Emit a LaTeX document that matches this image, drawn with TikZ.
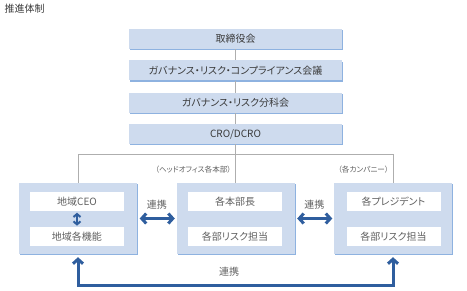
\documentclass[tikz,border=0pt]{standalone}
\usepackage{fontspec}
\setmainfont{Noto Sans CJK JP}[RawFeature=+palt]
\usepackage{xcolor}
\usetikzlibrary{arrows.meta,positioning,shadows}

\definecolor{boxblue}{HTML}{CEDBEE}
\definecolor{edgeblue}{HTML}{8EB2E0}
\definecolor{linkblue}{HTML}{2F5E9E}
\definecolor{textgray}{HTML}{3A3A3A}
\definecolor{subgray}{HTML}{606060}
\definecolor{wiregray}{HTML}{AEAEAE}

\begin{document}
\begin{tikzpicture}[
    x=1pt, y=-1pt,
    board/.style={
        rectangle,
        fill=boxblue,
        minimum width=213pt,
        minimum height=20pt,
        inner sep=0pt,
        font=\fontsize{10}{11}\selectfont,
        text=textgray,
        drop shadow={shadow xshift=1.2pt, shadow yshift=-1.2pt, fill=edgeblue, opacity=1}
    },
    group/.style={
        rectangle,
        fill=boxblue,
        minimum width=118pt,
        minimum height=71pt,
        drop shadow={shadow xshift=1.2pt, shadow yshift=-1.2pt, fill=edgeblue, opacity=1}
    },
    role/.style={
        rectangle,
        fill=white,
        minimum width=94pt,
        minimum height=19pt,
        inner sep=0pt,
        font=\fontsize{10}{11}\selectfont,
        text=subgray
    },
    note/.style={inner sep=0pt, font=\fontsize{7.6}{9}\selectfont, text=subgray},
    tag/.style={inner sep=0pt, font=\fontsize{10}{11}\selectfont, text=subgray},
    wire/.style={draw=wiregray, line width=0.8pt},
    link/.style={
        draw=linkblue,
        line width=3pt,
        {Straight Barb[length=4.5pt,width=10pt]}-{Straight Barb[length=4.5pt,width=10pt]}
    }
]
\useasboundingbox (0,0) rectangle (467,290);

\node[anchor=north west, inner sep=0pt, font=\fontsize{10}{11}\selectfont, text=textgray] (title) at (4.5,4) {推進体制};

% committee chain
\node[board] (board) at (235.5,39) {取締役会};
\node[board, below=11pt of board] (compliance) {ガバナンス・リスク・コンプライアンス会議};
\node[board, below=12pt of compliance] (riskcom) {ガバナンス・リスク分科会};
\node[board, below=11pt of riskcom] (cro) {CRO/DCRO};

% organisations
\node[group] (region) at (78,218.5) {};
\node[group] (hq) at (235.5,218.5) {};
\node[group] (company) at (393,218.5) {};

\node[role] (regionceo) at (77,201.5) {地域CEO};
\node[role, below=16pt of regionceo] (regionfunc) {地域各機能};
\node[role] (hqhead) at (235,201.5) {各本部長};
\node[role, below=16pt of hqhead] (hqrisk) {各部リスク担当};
\node[role] (president) at (393.5,201.5) {各プレジデント};
\node[role, below=16pt of president] (companyrisk) {各部リスク担当};

\node[note, above left=9pt and 4pt of hq.north] (hqnote) {（ヘッドオフィス各本部）};
\node[note, above left=9pt and 4pt of company.north] (companynote) {（各カンパニー）};

% reporting lines
\coordinate (bus) at (235.5,154.5);
\draw[wire] (board) -- (compliance);
\draw[wire] (compliance) -- (riskcom);
\draw[wire] (riskcom) -- (cro);
\draw[wire] (cro) -- (hq);
\draw[wire] (region.north) |- (bus) -| (company.north);

% cooperation
\draw[link, shorten <=2.5pt, shorten >=1.5pt] (region.east) -- (hq.west)
    node[tag, midway, above=8pt] {連携};
\draw[link, shorten <=2.5pt, shorten >=1.5pt] (hq.east) -- (company.west)
    node[tag, midway, above=8pt] {連携};
\draw[draw=linkblue, line width=2pt, shorten <=1.5pt, shorten >=1.5pt,
    {Straight Barb[length=3pt,width=7pt]}-{Straight Barb[length=3pt,width=7pt]}]
    (regionceo) -- (regionfunc);
\draw[link, shorten <=3pt, shorten >=3pt] (region.south) -- ++(0,31)
    -| node[tag, pos=0.24, above=7pt] {連携} (company.south);

\end{tikzpicture}
\end{document}
